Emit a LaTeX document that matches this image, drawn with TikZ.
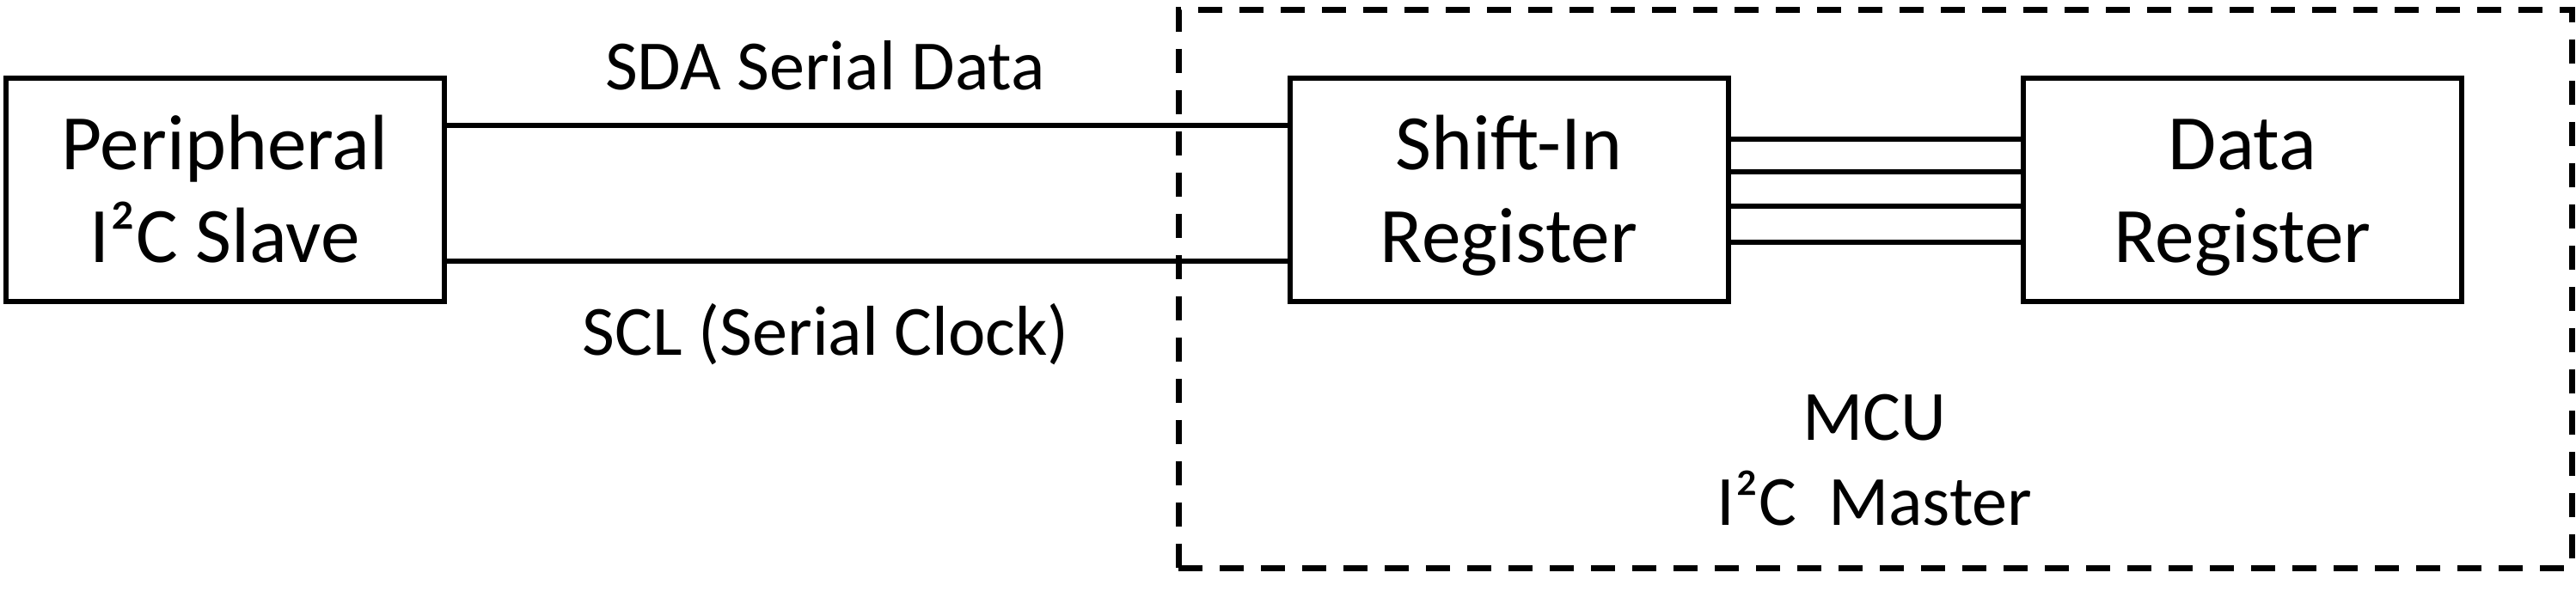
\documentclass[tikz,border=0pt]{standalone}
\usepackage{fontspec}
\setmainfont{Carlito}
\newcommand\mytopstrut{\rule{0pt}{1.0em}}
\newcommand\mybotstrut{\rule[-0.34em]{0pt}{0pt}}
\tikzset{
  blk/.style={draw=black, line width=0.06cm, minimum width=5.10cm, minimum height=2.60cm,
    align=center, inner sep=0pt, font=\fontsize{26}{30.7}\selectfont},
  wire/.style={line width=0.06cm},
  lbl/.style={font=\fontsize{23.4}{28.2}\selectfont, inner sep=0pt, align=center},
  mcubox/.style={draw=black, dash pattern=on 0.28cm off 0.20cm, line width=0.07cm,
    minimum width=16.21cm, minimum height=6.49cm, inner sep=0pt}
}
\begin{document}
\begin{tikzpicture}
\useasboundingbox (0,0) rectangle (29.97,6.87);
\node[mcubox] (mcu) at (21.815,3.505) {};
\node[blk] (periph) at (2.615,4.66) {\mytopstrut Peripheral\\I²C Slave\mybotstrut};
\node[blk] (shift) at (17.555,4.66) {\mytopstrut Shift-In\\Register\mybotstrut};
\node[blk] (data) at (26.09,4.66) {\mytopstrut Data\\Register\mybotstrut};
\node[lbl, anchor=base] (sdalbl) at (9.60,5.82) {SDA Serial Data};
\node[lbl, anchor=base] (scllbl) at (9.61,2.73) {SCL (Serial Clock)};
\node[lbl] (mculbl) at (21.81,1.52) {\mytopstrut MCU\\I²C\ \ Master\mybotstrut};
\draw[wire] (periph.east |- 0,5.41) -- (shift.west |- 0,5.41);
\draw[wire] (periph.east |- 0,3.83) -- (shift.west |- 0,3.83);
\foreach \y in {5.25,4.87,4.47,4.05}
  \draw[wire] (shift.east |- 0,\y) -- (data.west |- 0,\y);
\end{tikzpicture}
\end{document}
